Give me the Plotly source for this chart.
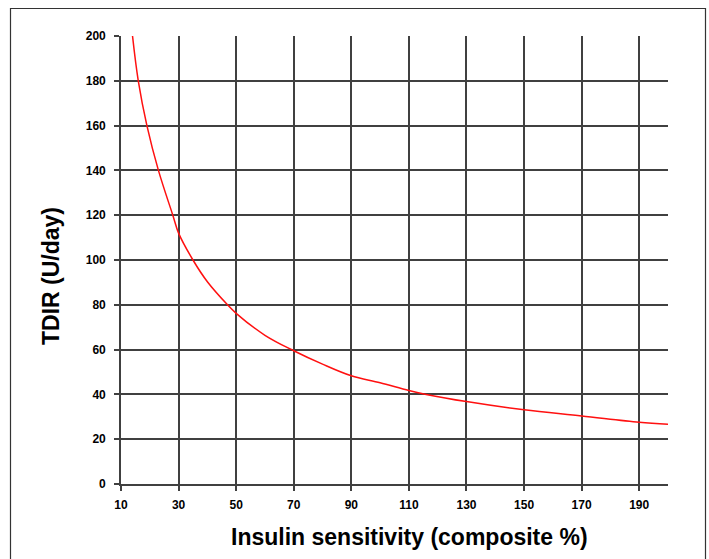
import plotly.graph_objects as go

# Data
sensitivity = [14, 16, 19, 23, 28, 30, 35, 40, 47, 50, 60, 70, 80, 90, 100,
               110, 116, 130, 150, 170, 190, 200]
tdir = [200, 180, 160, 140, 120, 112, 100, 90.3, 80, 76.2, 66.4, 59.5, 53.5,
        48.3, 45.2, 41.7, 40, 36.8, 33.1, 30.4, 27.6, 26.7]
x_ticks = [10, 30, 50, 70, 90, 110, 130, 150, 170, 190]
y_ticks = [0, 20, 40, 60, 80, 100, 120, 140, 160, 180, 200]
x_title = "Insulin sensitivity (composite %)"
y_title = "TDIR (U/day)"

W, H = 709, 559
L, R, T, B = 121, 41, 36, 75
pw, ph = W - L - R, H - T - B


def px_x(p):
    return (p - L) / pw


def px_y(p):
    return (H - B - p) / ph


grid = "#404040"
tickfont = dict(family="Liberation Sans, Arial, sans-serif", size=12,
                color="black", weight="bold")
titlefont = dict(family="Liberation Sans, Arial, sans-serif", size=23, color="black")

fig = go.Figure()
fig.add_trace(go.Scatter(x=sensitivity, y=tdir, mode="lines",
                         line=dict(color="#ff1010", width=1.5, shape="spline"),
                         showlegend=False, hoverinfo="skip"))

fig.update_layout(
    width=W, height=H,
    margin=dict(l=L, r=R, t=T, b=B),
    paper_bgcolor="white", plot_bgcolor="white",
    xaxis=dict(range=[10, 200], tickvals=x_ticks, ticktext=[str(v) for v in x_ticks],
               showgrid=True, gridcolor=grid, gridwidth=1.6,
               showline=True, linecolor=grid, linewidth=1.6,
               ticks="outside", ticklen=5, tickcolor=grid, tickwidth=1.6,
               tickfont=tickfont, zeroline=False, ticklabelstandoff=4),
    yaxis=dict(range=[0, 200], tickvals=y_ticks,
               showgrid=True, gridcolor=grid, gridwidth=1.6,
               showline=True, linecolor=grid, linewidth=1.6,
               ticks="outside", ticklen=5, tickcolor=grid, tickwidth=1.6,
               tickfont=tickfont, zeroline=False, ticklabelstandoff=6),
    annotations=[
        dict(text=f"<b>{x_title}</b>", xref="paper", yref="paper",
             x=px_x(409), y=px_y(537), showarrow=False,
             xanchor="center", yanchor="middle", font=titlefont),
        dict(text=f"<b>{y_title}</b>", xref="paper", yref="paper",
             x=px_x(51), y=px_y(276), showarrow=False, textangle=-90,
             xanchor="center", yanchor="middle", font=titlefont),
    ],
    shapes=[
        dict(type="rect", xref="paper", yref="paper",
             x0=px_x(10.5), x1=px_x(705.5), y0=px_y(600), y1=px_y(8.5),
             line=dict(color="#333333", width=1.2), layer="below"),
    ],
)

fig.write_html("out.html")
